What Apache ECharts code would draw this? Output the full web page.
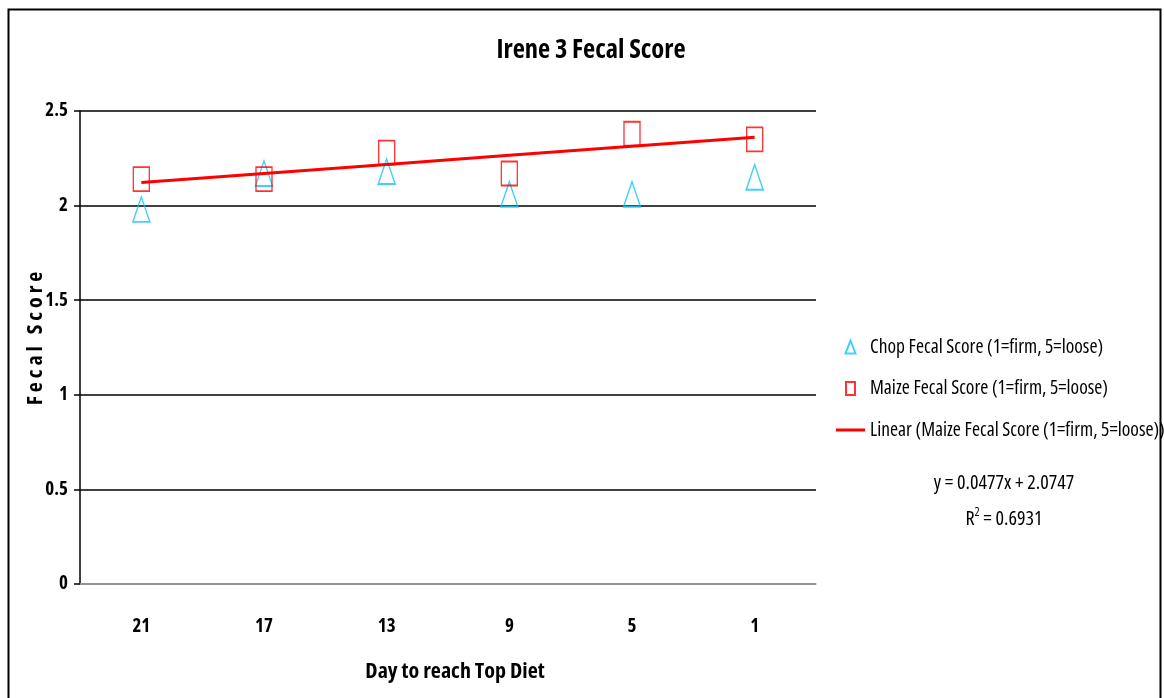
<!DOCTYPE html>
<html>
<head>
<meta charset="utf-8">
<script src="https://cdn.jsdelivr.net/npm/echarts@6/dist/echarts.min.js"></script>
<style>
  html, body { margin: 0; padding: 0; background: #fff; }
  #chart { width: 1164px; height: 698px; }
</style>
</head>
<body>
<div id="chart"></div>
<script>
// Days remaining to reach the top diet
const days = ['21', '17', '13', '9', '5', '1'];
// Mean fecal scores (1=firm, 5=loose)
const chopScores = [1.98, 2.17, 2.18, 2.06, 2.06, 2.15];
const maizeScores = [2.14, 2.14, 2.28, 2.17, 2.38, 2.35];
// Linear trend fitted to the maize scores (x = 1..6)
const trendSlope = 0.0477;
const trendIntercept = 2.0747;
const trendR2 = 0.6931;
const yTicks = [0, 0.5, 1, 1.5, 2, 2.5];

// Condensed Open Sans (width axis picked through the font shorthand)
const FONT = "'Open Sans', sans-serif";
const NORMAL = 'condensed';
const BOLD = 'bold condensed';
const CYAN = '#12c6f6';
const RED = '#ff0000';

const CHOP = 'Chop Fecal Score (1=firm, 5=loose)';
const MAIZE = 'Maize Fecal Score (1=firm, 5=loose)';
const LINEAR = 'Linear (Maize Fecal Score (1=firm, 5=loose))';

const trendValues = days.map((d, i) => +(trendSlope * (i + 1) + trendIntercept).toFixed(4));

const chart = echarts.init(document.getElementById('chart'), null, { renderer: 'canvas' });

chart.setOption({
  animation: false,
  backgroundColor: '#fff',
  textStyle: { fontFamily: FONT },
  title: {
    text: 'Irene 3 Fecal Score',
    left: 586, top: 32, textAlign: 'center',
    textStyle: { fontFamily: FONT, fontSize: 26.5, fontWeight: BOLD, color: '#000' }
  },
  grid: { left: 80, right: 348, top: 111, bottom: 114 },
  legend: {
    orient: 'vertical',
    left: 830, top: 332,
    itemGap: 21.5,
    itemWidth: 29, itemHeight: 13,
    itemTextGap: 5,
    textStyle: { fontFamily: FONT, fontWeight: NORMAL, fontSize: 19.5, color: '#000' },
    data: [
      // each icon path spans a 29x13 box so the glyph keeps its own size
      { name: CHOP, icon: 'path://M0,13 L0,13 M29,0 L29,0 M14.5,0 L19.5,13 L9.5,13 Z' },
      { name: MAIZE, icon: 'path://M0,0 L0,0 M29,13 L29,13 M10,0 L19,0 L19,13 L10,13 Z' },
      { name: LINEAR, icon: 'path://M0,0 L0,0 M0,13 L0,13 M0,5 L29,5 L29,8 L0,8 Z' }
    ]
  },
  xAxis: {
    type: 'category',
    data: days,
    boundaryGap: true,
    name: 'Day to reach Top Diet',
    nameLocation: 'middle',
    nameGap: 77,
    nameMoveOverlap: false,
    nameTextStyle: { fontFamily: FONT, fontSize: 22, fontWeight: BOLD, color: '#000', padding: [0, 0, 0, 14] },
    axisLine: { lineStyle: { color: '#b0b0b0', width: 1.5 } },
    axisTick: { alignWithLabel: false, length: 8, lineStyle: { color: '#b0b0b0', width: 1.5 } },
    axisLabel: { margin: 33, fontFamily: FONT, fontSize: 19, fontWeight: BOLD, color: '#000' },
    splitLine: { show: false }
  },
  yAxis: {
    type: 'value',
    min: yTicks[0], max: yTicks[yTicks.length - 1], interval: 0.5,
    name: 'F e c a l   S c o r e',
    nameLocation: 'middle',
    nameGap: 33,
    nameMoveOverlap: false,
    nameTextStyle: { fontFamily: FONT, fontSize: 22, fontWeight: BOLD, color: '#000', padding: [0, 0, 0, 18] },
    axisLine: { show: true, lineStyle: { color: '#000', width: 1.5 } },
    axisTick: { show: true, length: 6, lineStyle: { color: '#000', width: 1.5 } },
    axisLabel: { margin: 12, fontFamily: FONT, fontSize: 19, fontWeight: BOLD, color: '#000' },
    splitLine: { show: true, lineStyle: { color: '#000', width: 1.5 } }
  },
  series: [
    {
      name: CHOP,
      type: 'scatter',
      data: chopScores,
      symbol: 'triangle',
      symbolSize: [17, 25],
      itemStyle: { color: 'rgba(0,0,0,0)', borderColor: CYAN, borderWidth: 1.6 },
      z: 3
    },
    {
      name: MAIZE,
      type: 'scatter',
      data: maizeScores,
      symbol: 'rect',
      symbolSize: [16, 24],
      itemStyle: { color: 'rgba(0,0,0,0)', borderColor: RED, borderWidth: 1.6 },
      z: 3
    },
    {
      name: LINEAR,
      type: 'line',
      data: trendValues,
      symbol: 'none',
      lineStyle: { color: RED, width: 3 },
      itemStyle: { color: RED },
      z: 4
    }
  ],
  graphic: [
    {
      type: 'rect', silent: true, z: 10,
      shape: { x: 8.5, y: 9.5, width: 1152, height: 720 },
      style: { fill: 'none', stroke: '#000', lineWidth: 2 }
    },
    {
      type: 'text', x: 1004, y: 483, z: 10,
      style: {
        text: 'y = ' + trendSlope + 'x + ' + trendIntercept,
        align: 'center', verticalAlign: 'middle',
        fontFamily: FONT, fontWeight: NORMAL, fontSize: 20, fill: '#000'
      }
    },
    {
      type: 'text', x: 1004, y: 519, z: 10,
      style: {
        text: '{b|R}{s|2}{b| = ' + trendR2 + '}',
        align: 'center', verticalAlign: 'middle',
        rich: {
          b: { fontFamily: FONT, fontWeight: NORMAL, fontSize: 20, fill: '#000' },
          s: { fontFamily: FONT, fontWeight: NORMAL, fontSize: 12, fill: '#000', padding: [0, 0, 12, 0] }
        }
      }
    }
  ]
});
</script>
</body>
</html>
